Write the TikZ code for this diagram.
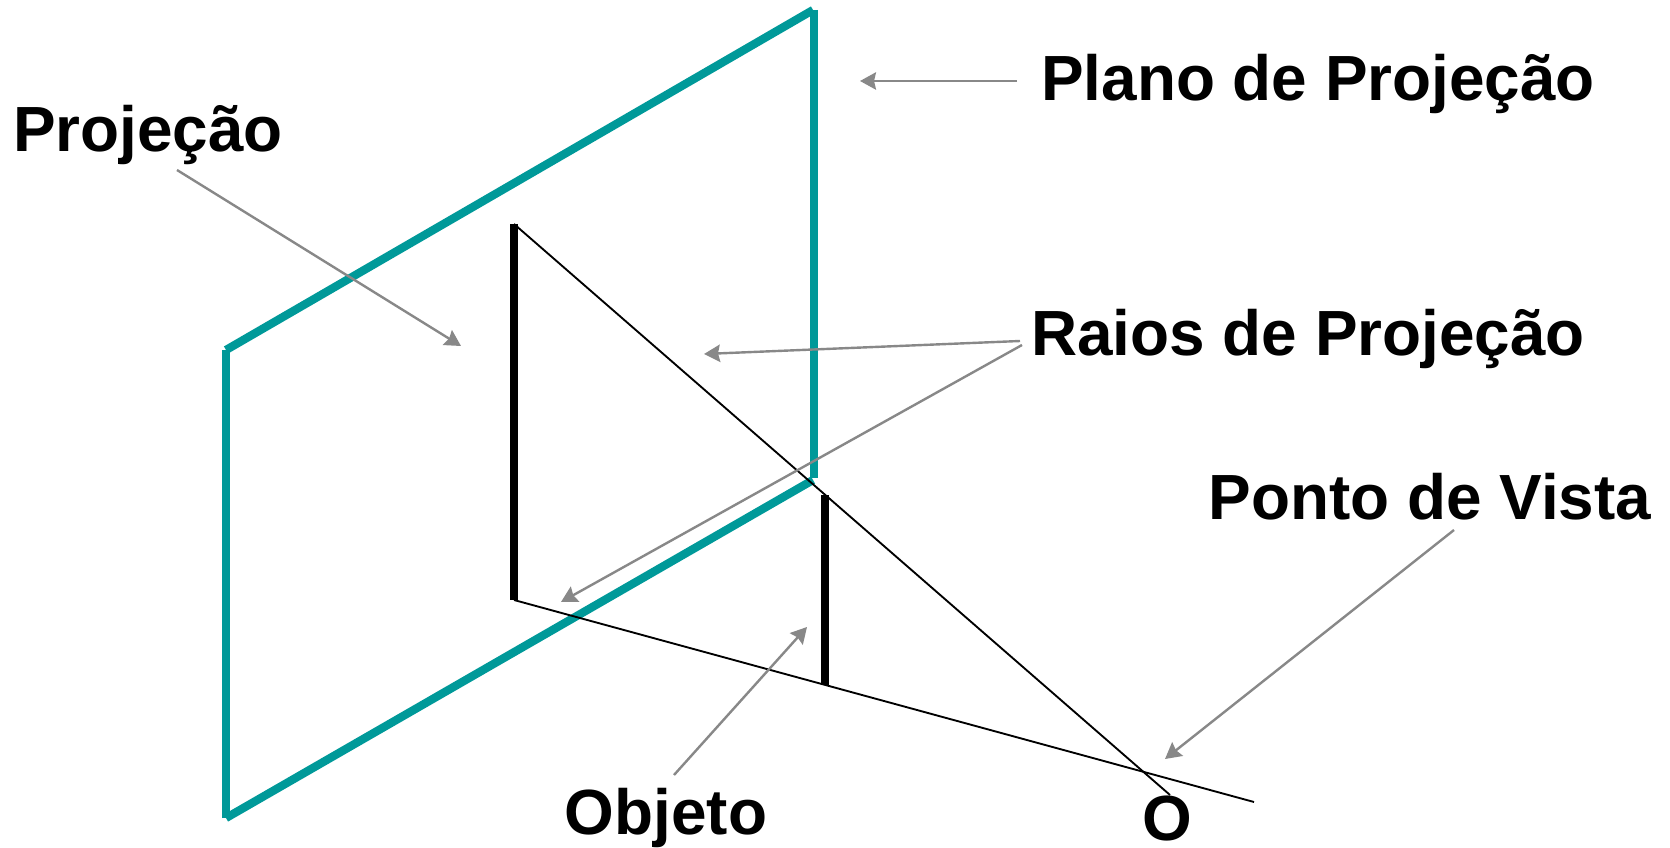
\documentclass[tikz,border=0pt]{standalone}
\usepackage{fontspec}
\setmainfont{Liberation Sans}
\usetikzlibrary{arrows.meta}
\definecolor{teal1}{RGB}{0,153,153}
\definecolor{gray1}{RGB}{136,136,136}
\tikzset{
 plane/.style={draw=teal1,line width=6.2pt,line cap=butt},
 obj/.style={draw=black,line width=6.2pt},
 ray/.style={draw=black,line width=1.4pt},
 callout/.style={draw=gray1,line width=1.8pt,-{Stealth[length=12pt,width=13pt,inset=1.5pt]}},
 lab/.style={font=\bfseries\fontsize{47.9}{50}\selectfont,text=black,inner sep=0pt,anchor=center}
}
\begin{document}
\begin{tikzpicture}[x=0.75pt,y=-0.75pt]
\useasboundingbox (0,0) rectangle (1670,848);
\coordinate (pa) at (226,350);
\coordinate (pb) at (813,10);
\coordinate (pbv) at (814,10);
\coordinate (pc) at (814,478);
\coordinate (pc2) at (813,480);
\coordinate (pd) at (226,818);
\draw[plane] (pbv) -- (pc);
\draw[plane] (pc2) -- (pd);
\draw[plane] (pd) -- (pa);
\draw[plane] (pa) -- (pb);
\coordinate (t1) at (514,224);
\coordinate (b1) at (514,600);
\coordinate (t2) at (825,495);
\coordinate (b2) at (825,685);
\draw[obj] (t1) -- (b1);
\draw[obj] (t2) -- (b2);
\coordinate (r1e) at (1170,795);
\coordinate (r2e) at (1254,802);
\draw[ray] (t1) -- (r1e);
\draw[ray] (b1) -- (r2e);
\node[lab] (plano) at (1318,84) {Plano de Projeção};
\node[lab] (proj) at (148,135) {Projeção};
\node[lab] (raios) at (1308,339) {Raios de Projeção};
\node[lab] (ponto) at (1430,497) {Ponto de Vista};
\node[lab] (objeto) at (666,818) {Objeto};
\node[lab] (o) at (1167,819) {O};
\coordinate (c1s) at (1017,81);
\coordinate (c1e) at (860,81);
\coordinate (c2s) at (177,170);
\coordinate (c2e) at (461,346);
\coordinate (c3s) at (1020,341);
\coordinate (c3e) at (704,354);
\coordinate (c4s) at (1022,345);
\coordinate (c4e) at (561,602);
\coordinate (c5s) at (1454,530);
\coordinate (c5e) at (1165,759);
\coordinate (c6s) at (674,775);
\coordinate (c6e) at (807,627);
\draw[callout] (c1s) -- (c1e);
\draw[callout] (c2s) -- (c2e);
\draw[callout] (c3s) -- (c3e);
\draw[callout] (c4s) -- (c4e);
\draw[callout] (c5s) -- (c5e);
\draw[callout] (c6s) -- (c6e);
\end{tikzpicture}
\end{document}
